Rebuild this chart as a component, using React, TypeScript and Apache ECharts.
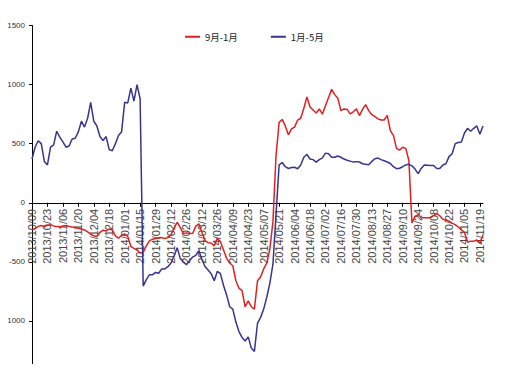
import React, { useEffect, useRef } from "react";
import * as echarts from "echarts";

// Categories: every other trading weekday starting 2013/10/09
const startDate = "2013-10-09";
const categoryCount = 147;

const seriesNames = ["9月-1月", "1月-5月"];

const red = [
  -230, -218, -200, -192, -204, -190, -186, -196, -202, -204,
  -196, -192, -200, -206, -209, -215, -222, -230, -246, -265,
  -280, -285, -250, -232, -240, -222, -230, -280, -300, -275,
  -265, -285, -370, -386, -400, -425, -420, -365, -322, -308,
  -302, -297, -295, -302, -295, -270, -215, -165, -210, -260,
  -255, -258, -260, -200, -178, -250, -320, -338, -340, -365,
  -300, -330, -400, -470, -510, -533, -660, -723, -745, -880,
  -830, -880, -900, -660, -628, -560, -510, -390, -160, 400,
  680, 705, 650, 575, 625, 640, 700, 715, 800, 895,
  810, 785, 760, 794, 750, 820, 890, 960, 915, 885,
  780, 794, 790, 752, 770, 794, 738, 790, 830, 780,
  745, 730, 710, 700, 700, 740, 610, 570, 460, 445,
  470, 460, 358, -170, -115, -100, -125, -126, -126, -126,
  -108, -91, -110, -140, -148, -155, -172, -185, -205, -230,
  -250, -335, -325, -325, -315, -340, -270,
];

const blue = [
  370, 470, 525, 500, 350, 320, 470, 490, 605, 555,
  515, 470, 480, 540, 546, 600, 690, 640, 715, 850,
  690, 650, 560, 527, 560, 450, 440, 500, 570, 600,
  850, 845, 970, 860, 1000, 880, -705, -650, -610, -610,
  -590, -597, -560, -560, -541, -510, -450, -380, -471, -500,
  -525, -490, -460, -445, -405, -480, -540, -570, -600, -660,
  -580, -600, -700, -780, -880, -900, -1010, -1090, -1140, -1170,
  -1135, -1230, -1258, -1020, -970, -900, -800, -680, -520, -100,
  320, 340, 305, 290, 298, 300, 288, 320, 385, 410,
  370, 365, 344, 365, 380, 420, 415, 385, 385, 395,
  385, 370, 360, 352, 344, 348, 345, 330, 325, 322,
  350, 372, 378, 365, 355, 345, 332, 305, 288, 292,
  305, 320, 325, 312, 285, 246, 290, 320, 318, 316,
  316, 290, 290, 320, 330, 390, 415, 500, 510, 515,
  590, 630, 605, 630, 650, 580, 650,
];

const yTicks = { min: -1500, max: 1500, interval: 500 };

function buildCategories(): string[] {
  const out: string[] = [];
  const d = new Date(startDate + "T00:00:00Z");
  let weekday = 0;
  while (out.length < categoryCount) {
    const dow = d.getUTCDay();
    if (dow !== 0 && dow !== 6) {
      if (weekday % 2 === 0) {
        const y = d.getUTCFullYear();
        const m = String(d.getUTCMonth() + 1).padStart(2, "0");
        const dd = String(d.getUTCDate()).padStart(2, "0");
        out.push(`${y}/${m}/${dd}`);
      }
      weekday++;
    }
    d.setUTCDate(d.getUTCDate() + 1);
  }
  return out;
}

const W = 507;
const H = 388;
const GRID_TOP = 25.5;
const GRID_BOTTOM = 8;

export default function App() {
  const ref = useRef<HTMLDivElement>(null);
  useEffect(() => {
    if (!ref.current) return;
    const chart = echarts.init(ref.current, undefined, { renderer: "svg" });
    const cats = buildCategories();
    const gridH = H - GRID_TOP - GRID_BOTTOM;
    const zeroOffset = -gridH * (0 - yTicks.min) / (yTicks.max - yTicks.min);
    chart.setOption({
      animation: false,
      backgroundColor: "#ffffff",
      legend: {
        data: seriesNames,
        left: 180,
        top: 27,
        icon: "rect",
        itemWidth: 15,
        itemHeight: 2,
        itemGap: 33,
        textStyle: { fontSize: 9.5, color: "#222", fontFamily: "'Noto Sans CJK SC', sans-serif" },
      },
      grid: {
        left: 32,
        right: 24,
        top: GRID_TOP,
        bottom: GRID_BOTTOM,
        containLabel: false,
        outerBoundsMode: "none",
      },
      xAxis: {
        type: "category",
        data: cats,
        boundaryGap: false,
        position: "bottom",
        offset: zeroOffset,
        axisLine: { onZero: false, lineStyle: { color: "#000", width: 1 } },
        axisTick: { interval: 4, length: 4, lineStyle: { color: "#000" } },
        axisLabel: {
          interval: 4,
          rotate: 90,
          fontSize: 11,
          color: "#444",
          margin: 6,
          fontFamily: "'Liberation Sans', sans-serif",
        },
        splitLine: { show: false },
      },
      yAxis: {
        type: "value",
        min: yTicks.min,
        max: yTicks.max,
        interval: yTicks.interval,
        axisLine: { show: true, lineStyle: { color: "#000", width: 1 } },
        axisTick: { show: true, length: 3, lineStyle: { color: "#000" } },
        axisLabel: {
          fontSize: 8,
          color: "#333",
          margin: 7,
          formatter: (v: number) => (v === yTicks.min ? "" : String(v)),
          fontFamily: "'Liberation Sans', sans-serif",
        },
        splitLine: { show: false },
      },
      series: [
        {
          name: seriesNames[0],
          type: "line",
          data: red,
          showSymbol: false,
          color: "#e02020",
          lineStyle: { width: 1.5, color: "#e02020" },
        },
        {
          name: seriesNames[1],
          type: "line",
          data: blue,
          showSymbol: false,
          color: "#35358f",
          lineStyle: { width: 1.5, color: "#35358f" },
        },
      ],
    });
    return () => chart.dispose();
  }, []);
  return (
    <div style={{ margin: "-8px 0 0 -8px", width: W, height: 364, overflow: "hidden" }}>
      <div ref={ref} style={{ width: W, height: H }} />
    </div>
  );
}
